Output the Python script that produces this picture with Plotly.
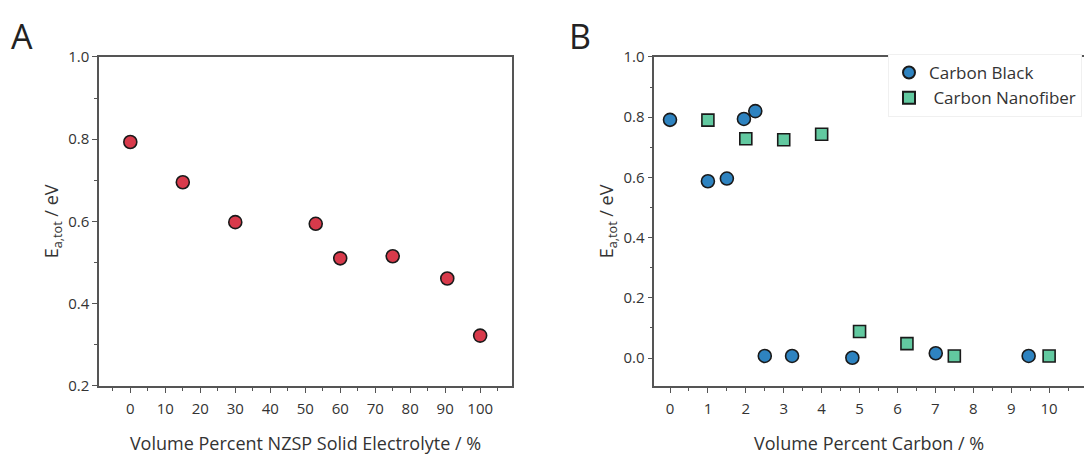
import plotly.graph_objects as go

# Panel A data
nzsp_x = [0, 15, 30, 53, 60, 75, 90.6, 100]
nzsp_y = [0.793, 0.695, 0.598, 0.594, 0.510, 0.515, 0.461, 0.322]

# Panel B data
cb_x = [0, 1, 1.5, 1.95, 2.25, 2.5, 3.22, 4.81, 7.01, 9.46]
cb_y = [0.791, 0.587, 0.596, 0.794, 0.820, 0.007, 0.007, 0.001, 0.016, 0.007]
cnf_x = [1, 2, 3, 4, 5, 6.25, 7.5, 10]
cnf_y = [0.790, 0.728, 0.725, 0.743, 0.088, 0.048, 0.007, 0.007]

FONT = "Open Sans"
TXT = "#333333"
AX = "#555555"
W, H = 1084, 455

fig = go.Figure()
fig.add_trace(go.Scatter(x=nzsp_x, y=nzsp_y, mode="markers", showlegend=False,
                         marker=dict(symbol="circle", size=13, color="#D83A4B",
                                     line=dict(color="#1a1a1a", width=1.6)),
                         xaxis="x", yaxis="y"))
fig.add_trace(go.Scatter(x=cb_x, y=cb_y, mode="markers", name="Carbon Black",
                         marker=dict(symbol="circle", size=13, color="#2E83C0",
                                     line=dict(color="#1a1a1a", width=1.6)),
                         xaxis="x2", yaxis="y2"))
fig.add_trace(go.Scatter(x=cnf_x, y=cnf_y, mode="markers", name=" Carbon Nanofiber",
                         marker=dict(symbol="square", size=12, color="#62C9A0",
                                     line=dict(color="#1a1a1a", width=1.6)),
                         xaxis="x2", yaxis="y2"))

ydom = [1 - 392 / H, 1 - 48 / H]
axcommon = dict(showgrid=False, zeroline=False, showline=True, linecolor=AX, linewidth=1.5,
                ticks="outside", ticklen=5, tickwidth=1.2, tickcolor=AX,
                tickfont=dict(family=FONT, size=15, color=TXT))
TITLEFONT = dict(family=FONT, size=18, color=TXT)

fig.update_layout(
    width=W, height=H, margin=dict(l=0, r=0, t=0, b=0),
    paper_bgcolor="white", plot_bgcolor="white",
    font=dict(family=FONT, color=TXT),
    xaxis=dict(domain=[99 / W, 512 / W], range=[-8.95, 109.1], anchor="y",
               tickmode="linear", tick0=0, dtick=10, mirror=True, ticklabelstandoff=3,
               minor=dict(ticks="outside", ticklen=3, tickcolor=AX, dtick=5, tick0=0),
               title=dict(text="Volume Percent NZSP Solid Electrolyte / %",
                          font=TITLEFONT, standoff=24),
               **axcommon),
    yaxis=dict(domain=ydom, range=[0.2, 1.0], anchor="x",
               tickmode="linear", tick0=0.2, dtick=0.2, tickformat=".1f", mirror=True,
               minor=dict(ticks="outside", ticklen=3, tickcolor=AX, dtick=0.1, tick0=0.2),
               title=dict(text="E<sub>a,tot</sub> / eV", font=TITLEFONT, standoff=5),
               **axcommon),
    xaxis2=dict(domain=[654.3 / W, 1.0], range=[-0.414, 10.92], anchor="y2",
                tickmode="linear", tick0=0, dtick=1, mirror=True, ticklabelstandoff=3,
                minor=dict(ticks="outside", ticklen=3, tickcolor=AX, dtick=0.5, tick0=0),
                title=dict(text="Volume Percent Carbon / %", font=TITLEFONT, standoff=24),
                **axcommon),
    yaxis2=dict(domain=ydom, range=[-0.092, 1.0], anchor="x2",
                tickmode="linear", tick0=0, dtick=0.2, tickformat=".1f", mirror=False,
                minor=dict(ticks="outside", ticklen=3, tickcolor=AX, dtick=0.1, tick0=0),
                title=dict(text="E<sub>a,tot</sub> / eV", font=TITLEFONT, standoff=5),
                **axcommon),
    legend=dict(x=888 / W, y=1 - 45 / H, xanchor="left", yanchor="top",
                bgcolor="white", bordercolor="#f0f0f0", borderwidth=1,
                font=dict(family=FONT, size=17, color=TXT), itemsizing="constant",
                tracegroupgap=0),
    annotations=[
        dict(text="A", x=9 / W, y=1 - 26 / H, xref="paper", yref="paper",
             xanchor="left", yanchor="middle", showarrow=False,
             font=dict(family=FONT, size=34, color="#222222")),
        dict(text="B", x=567 / W, y=1 - 26 / H, xref="paper", yref="paper",
             xanchor="left", yanchor="middle", showarrow=False,
             font=dict(family=FONT, size=34, color="#222222")),
    ],
)

fig.write_html("out.html")
